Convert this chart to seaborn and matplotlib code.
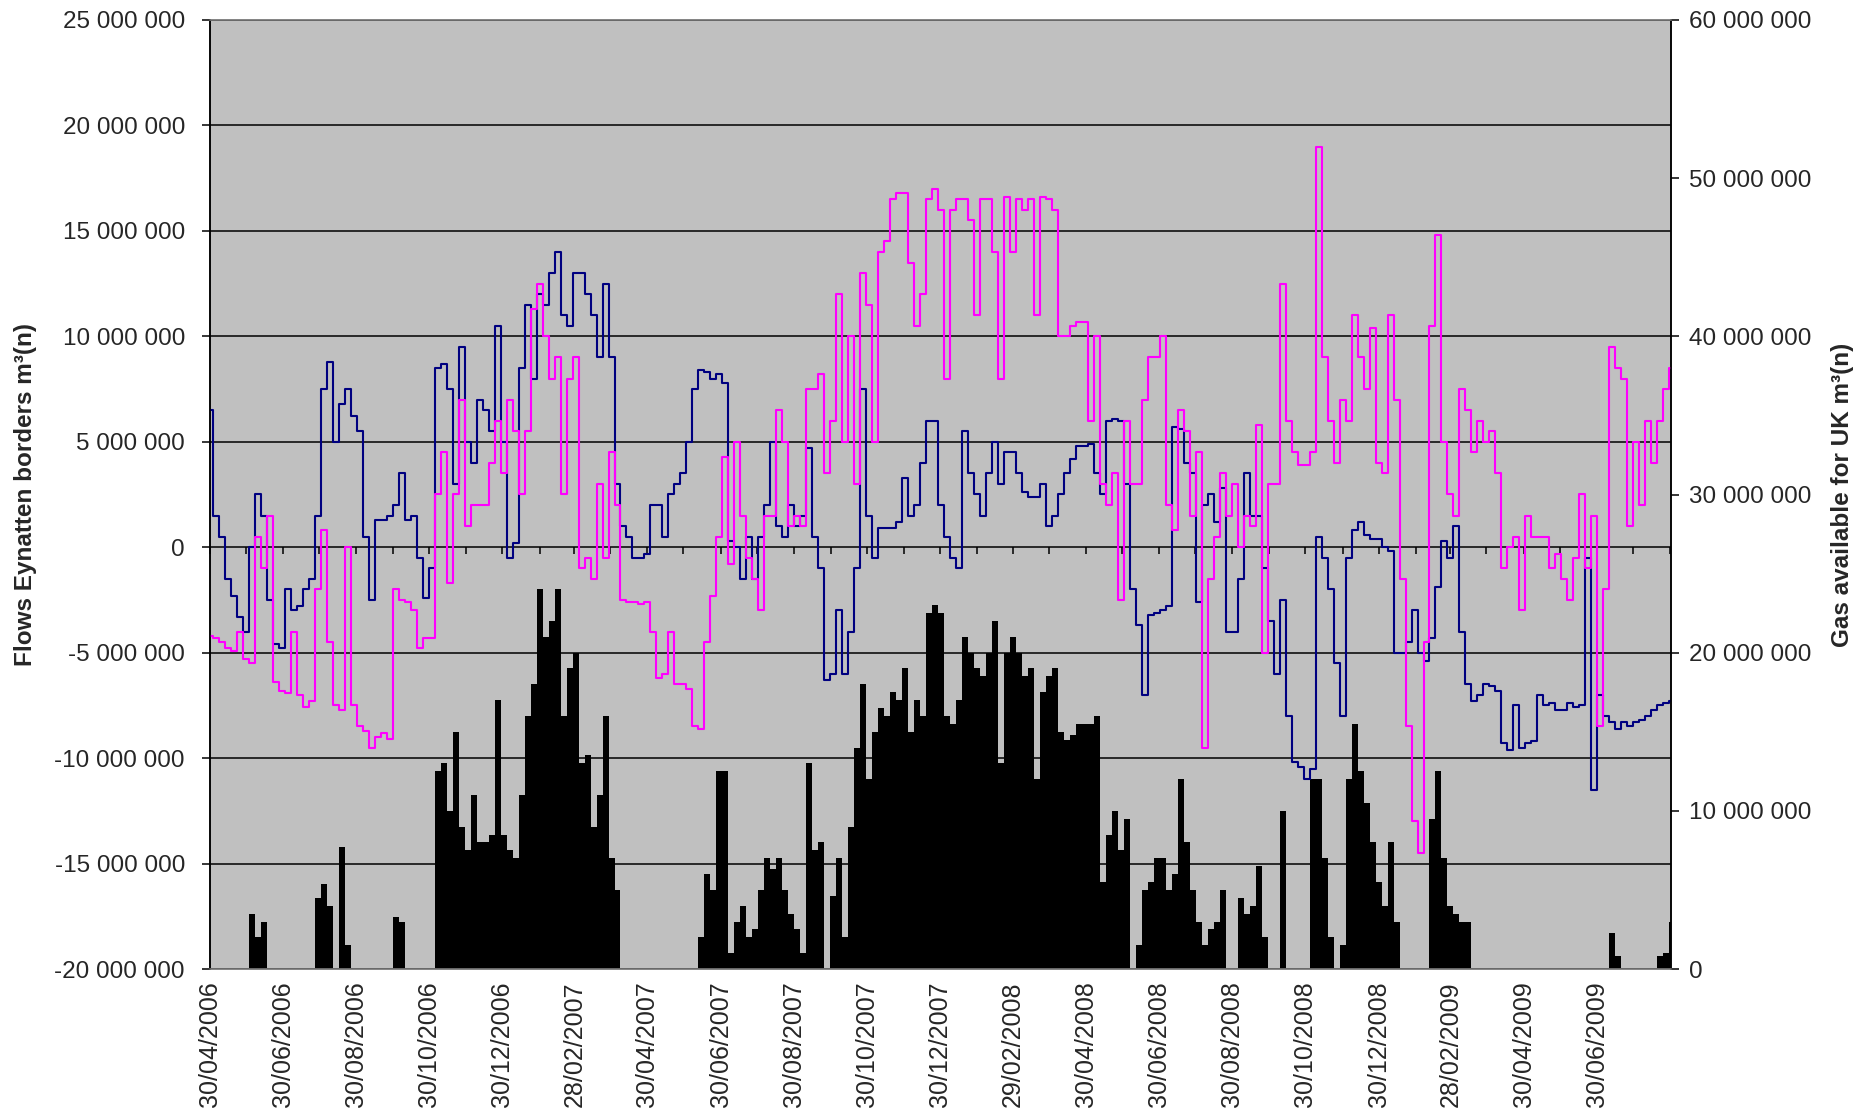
import numpy as np
import pandas as pd
import matplotlib
matplotlib.use("Agg")
import matplotlib.pyplot as plt
from matplotlib.ticker import FuncFormatter, MultipleLocator
import seaborn as sns

# ---- data (millions of m3(n), one value every 5 days from 30/04/2006) ----
start_date = "2006-04-30"
step = "5D"

flow_navy = [
    6.5, 1.5, 0.5, -1.5, -2.3, -3.3, -4.0, 0.0, 2.5, 1.5,
    -2.5, -4.6, -4.8, -2.0, -3.0, -2.8, -2.0, -1.5, 1.5, 7.5,
    8.8, 5.0, 6.8, 7.5, 6.2, 5.5, 0.5, -2.5, 1.3, 1.3,
    1.5, 2.0, 3.5, 1.3, 1.5, -0.5, -2.4, -1.0, 8.5, 8.7,
    7.5, 3.0, 9.5, 5.0, 4.0, 7.0, 6.5, 5.5, 10.5, 5.0,
    -0.5, 0.2, 8.5, 11.5, 8.0, 12.0, 11.5, 13.0, 14.0, 11.0,
    10.5, 13.0, 13.0, 12.0, 11.0, 9.0, 12.5, 9.0, 3.0, 1.0,
    0.5, -0.5, -0.5, -0.3, 2.0, 2.0, 0.5, 2.5, 3.0, 3.5,
    5.0, 7.5, 8.4, 8.3, 8.0, 8.2, 7.8, 0.3, 0.0, -1.5,
    0.5, -1.5, 0.5, 2.0, 5.0, 1.0, 0.5, 2.0, 1.0, 1.5,
    4.7, 0.5, -1.0, -6.3, -6.0, -3.0, -6.0, -4.0, -1.0, 7.5,
    1.5, -0.5, 0.9, 0.9, 0.9, 1.2, 3.3, 1.5, 2.0, 4.0,
    6.0, 6.0, 2.0, 0.5, -0.5, -1.0, 5.5, 3.5, 2.5, 1.5,
    3.5, 5.0, 3.0, 4.5, 4.5, 3.5, 2.6, 2.4, 2.4, 3.0,
    1.0, 1.5, 2.5, 3.5, 4.2, 4.8, 4.8, 4.9, 3.5, 2.5,
    6.0, 6.1, 6.0, 3.0, -2.0, -3.7, -7.0, -3.2, -3.1, -3.0,
    -2.8, 5.7, 5.6, 4.0, 3.5, -2.6, 2.0, 2.5, 1.2, 2.8,
    -4.0, -4.0, -1.5, 3.5, 1.5, 1.5, -1.0, -3.5, -6.0, -2.5,
    -8.0, -10.2, -10.4, -11.0, -10.5, 0.5, -0.5, -2.0, -5.5, -8.0,
    -0.5, 0.8, 1.2, 0.6, 0.4, 0.4, 0.0, -0.2, -5.0, -5.0,
    -4.5, -3.0, -5.0, -5.4, -4.3, -1.9, 0.3, -0.5, 1.0, -4.0,
    -6.5, -7.3, -7.0, -6.5, -6.6, -6.8, -9.3, -9.6, -7.5, -9.5,
    -9.3, -9.2, -7.0, -7.5, -7.4, -7.7, -7.7, -7.4, -7.6, -7.5,
    -0.5, -11.5, -7.0, -8.0, -8.3, -8.6, -8.3, -8.5, -8.3, -8.2,
    -8.0, -7.7, -7.5, -7.4, -7.3,
]

flow_magenta = [
    -4.2, -4.3, -4.5, -4.8, -4.9, -4.0, -5.3, -5.5, 0.5, -1.0,
    1.5, -6.4, -6.8, -6.9, -4.0, -7.0, -7.6, -7.3, -2.0, 0.8,
    -4.5, -7.5, -7.7, 0.0, -7.5, -8.5, -8.7, -9.5, -9.0, -8.8,
    -9.1, -2.0, -2.5, -2.6, -3.0, -4.8, -4.3, -4.3, 2.5, 4.5,
    -1.7, 2.5, 7.0, 1.0, 2.0, 2.0, 2.0, 4.0, 6.0, 3.5,
    7.0, 5.5, 2.5, 5.5, 11.3, 12.5, 10.0, 8.0, 9.0, 2.5,
    8.0, 9.0, -1.0, -0.5, -1.5, 3.0, -0.5, 4.5, 2.0, -2.5,
    -2.6, -2.6, -2.7, -2.6, -4.0, -6.2, -6.0, -4.0, -6.5, -6.5,
    -6.7, -8.5, -8.6, -4.5, -2.3, 0.5, 4.3, -0.8, 5.0, 1.5,
    -0.5, -1.5, -3.0, 1.5, 1.5, 6.5, 5.0, 1.0, 1.5, 1.0,
    7.5, 7.5, 8.2, 3.5, 6.0, 12.0, 5.0, 10.0, 3.0, 13.0,
    11.5, 5.0, 14.0, 14.5, 16.5, 16.8, 16.8, 13.5, 10.5, 12.0,
    16.5, 17.0, 16.0, 8.0, 16.0, 16.5, 16.5, 15.5, 11.0, 16.5,
    16.5, 14.0, 8.0, 16.6, 14.0, 16.5, 16.0, 16.5, 11.0, 16.6,
    16.5, 16.0, 10.0, 10.0, 10.5, 10.7, 10.7, 6.0, 10.0, 3.0,
    2.0, 3.5, -2.5, 6.0, 3.0, 3.0, 7.0, 9.0, 9.0, 10.0,
    2.0, 0.8, 6.5, 5.5, 1.5, 4.5, -9.5, -1.5, 0.5, 3.5,
    1.5, 3.0, 0.0, 1.5, 1.0, 5.8, -5.0, 3.0, 3.0, 12.5,
    6.0, 4.5, 3.9, 3.9, 4.5, 19.0, 9.0, 6.0, 4.0, 7.0,
    6.0, 11.0, 9.0, 7.5, 10.4, 4.0, 3.5, 11.0, 7.0, -1.5,
    -8.5, -13.0, -14.5, -4.5, 10.5, 14.8, 5.0, 2.5, 1.5, 7.5,
    6.5, 4.5, 6.0, 5.0, 5.5, 3.5, -1.0, 0.0, 0.5, -3.0,
    1.5, 0.5, 0.5, 0.5, -1.0, -0.3, -1.5, -2.5, -0.5, 2.5,
    -1.0, 1.5, -8.5, -2.0, 9.5, 8.5, 8.0, 1.0, 5.0, 2.0,
    6.0, 4.0, 6.0, 7.5, 8.5,
]

gas_for_uk = [
    0, 0, 0, 0, 0, 0, 0, 3.5, 2.0, 3.0,
    0, 0, 0, 0, 0, 0, 0, 0, 4.5, 5.4,
    4.0, 0, 7.7, 1.5, 0, 0, 0, 0, 0, 0,
    0, 3.3, 3.0, 0, 0, 0, 0, 0, 12.5, 13.0,
    10.0, 15.0, 9.0, 7.5, 11.0, 8.0, 8.0, 8.5, 17.0, 8.5,
    7.5, 7.0, 11.0, 16.0, 18.0, 24.0, 21.0, 22.0, 24.0, 16.0,
    19.0, 20.0, 13.0, 13.5, 9.0, 11.0, 16.0, 7.0, 5.0, 0,
    0, 0, 0, 0, 0, 0, 0, 0, 0, 0,
    0, 0, 2.0, 6.0, 5.0, 12.5, 12.5, 1.0, 3.0, 4.0,
    2.0, 2.5, 5.0, 7.0, 6.3, 7.0, 5.0, 3.5, 2.5, 1.0,
    13.0, 7.5, 8.0, 0, 4.6, 7.0, 2.0, 9.0, 14.0, 18.0,
    12.0, 15.0, 16.5, 16.0, 17.5, 17.0, 19.0, 15.0, 17.0, 16.0,
    22.5, 23.0, 22.5, 16.0, 15.5, 17.0, 21.0, 20.0, 19.0, 18.5,
    20.0, 22.0, 13.0, 20.0, 21.0, 20.0, 18.5, 19.0, 12.0, 17.5,
    18.5, 19.0, 15.0, 14.5, 14.8, 15.5, 15.5, 15.5, 16.0, 5.5,
    8.5, 10.0, 7.5, 9.5, 0, 1.5, 5.0, 5.5, 7.0, 7.0,
    5.0, 6.0, 12.0, 8.0, 5.0, 3.0, 1.5, 2.5, 3.0, 5.0,
    0, 0, 4.5, 3.5, 4.0, 6.5, 2.0, 0, 0, 10.0,
    0, 0, 0, 0, 12.0, 12.0, 7.0, 2.0, 0, 1.5,
    12.0, 15.5, 12.5, 10.5, 8.0, 5.5, 4.0, 8.0, 3.0, 0,
    0, 0, 0, 0, 9.5, 12.5, 7.0, 4.0, 3.5, 3.0,
    3.0, 0, 0, 0, 0, 0, 0, 0, 0, 0,
    0, 0, 0, 0, 0, 0, 0, 0, 0, 0,
    0, 0, 0, 0, 2.3, 0.8, 0, 0, 0, 0,
    0, 0, 0.8, 1.0, 3.0,
]

date_labels = [
    "30/04/2006", "30/06/2006", "30/08/2006", "30/10/2006", "30/12/2006",
    "28/02/2007", "30/04/2007", "30/06/2007", "30/08/2007", "30/10/2007",
    "30/12/2007", "29/02/2008", "30/04/2008", "30/06/2008", "30/08/2008",
    "30/10/2008", "30/12/2008", "28/02/2009", "30/04/2009", "30/06/2009",
]

left_title = "Flows Eynatten borders m³(n)"
right_title = "Gas available for UK m³(n)"

# ---- frame ----
dates = pd.date_range(start_date, periods=len(flow_navy), freq=step)
df = pd.DataFrame({
    "date": dates,
    "navy": np.asarray(flow_navy) * 1e6,
    "magenta": np.asarray(flow_magenta) * 1e6,
    "uk": np.asarray(gas_for_uk) * 1e6,
})

sns.set_theme(style="white")
plt.rcParams["font.family"] = ["Liberation Sans", "DejaVu Sans"]

W, H = 1868, 1118
fig = plt.figure(figsize=(W / 100, H / 100), dpi=100)
x0, x1, y0, y1 = 210, 1671, 20, 969
ax = fig.add_axes([x0 / W, 1 - y1 / H, (x1 - x0) / W, (y1 - y0) / H])
ax_r = ax.twinx()

# bars on the secondary axis, drawn underneath the flow lines
ax.set_zorder(ax_r.get_zorder() + 1)
ax.patch.set_visible(False)
ax_r.patch.set_visible(True)
ax_r.patch.set_facecolor("#C0C0C0")

ax_r.bar(df["date"], df["uk"], width=5.0, color="black", linewidth=0, align="center")

sns.lineplot(data=df, x="date", y="navy", ax=ax, color="#000080", linewidth=1.5,
             drawstyle="steps-mid", legend=False)
sns.lineplot(data=df, x="date", y="magenta", ax=ax, color="#FF00FF", linewidth=1.5,
             drawstyle="steps-mid", legend=False)

# ---- axes ----
xmin = pd.Timestamp(start_date)
xmax = xmin + pd.Timedelta(days=1219)
ax.set_xlim(xmin, xmax)
ax.set_ylim(-20e6, 25e6)
ax_r.set_ylim(0, 60e6)

fmt = FuncFormatter(lambda v, p: f"{v:,.0f}".replace(",", " "))
ax.yaxis.set_major_locator(MultipleLocator(5e6))
ax.yaxis.set_major_formatter(fmt)
ax_r.yaxis.set_major_locator(MultipleLocator(10e6))
ax_r.yaxis.set_major_formatter(fmt)

ax.yaxis.grid(True, color="black", linewidth=1.1)
ax.xaxis.grid(False)
ax_r.grid(False)
ax.set_axisbelow(True)

label_pos = pd.to_datetime(date_labels, dayfirst=True)
ax.set_xticks(label_pos)
ax.set_xticklabels(date_labels, rotation=90, fontsize=18, va="top", ha="center")
ax.tick_params(axis="x", length=0, pad=9)

ax.tick_params(axis="y", direction="out", length=6, width=1.1, color="black",
               labelsize=17.5, pad=12, left=True)
ax_r.tick_params(axis="y", direction="out", length=6, width=1.1, color="black",
                 labelsize=17.5, pad=7, right=True)

# monthly tick marks along the zero line
months = pd.period_range("2006-04", "2009-08", freq="M")
month_ticks = [pd.Timestamp(p.year, p.month, min(30, p.days_in_month)) for p in months]
sec = ax.secondary_xaxis(20 / 45)
sec.set_xticks(month_ticks)
sec.tick_params(axis="x", direction="out", length=5, width=1.1, color="black",
                labelbottom=False, labeltop=False)
for s in sec.spines.values():
    s.set_visible(False)

ax.set_xlabel("")
ax.set_ylabel("")
ax_r.set_ylabel("")

for a in (ax, ax_r):
    a.spines["left"].set_color("black")
    a.spines["right"].set_color("black")
    a.spines["top"].set_color("#808080")
    a.spines["bottom"].set_color("#808080")
    for s in a.spines.values():
        s.set_linewidth(1.1)

yc = 1 - (y0 + y1) / 2 / H
fig.text(26 / W, yc, left_title, rotation=90, ha="center", va="center",
         fontsize=17.5, fontweight="bold")
fig.text(1842 / W, yc, right_title, rotation=90, ha="center", va="center",
         fontsize=17.5, fontweight="bold")

fig.savefig("out.png", dpi=100, facecolor="white")
